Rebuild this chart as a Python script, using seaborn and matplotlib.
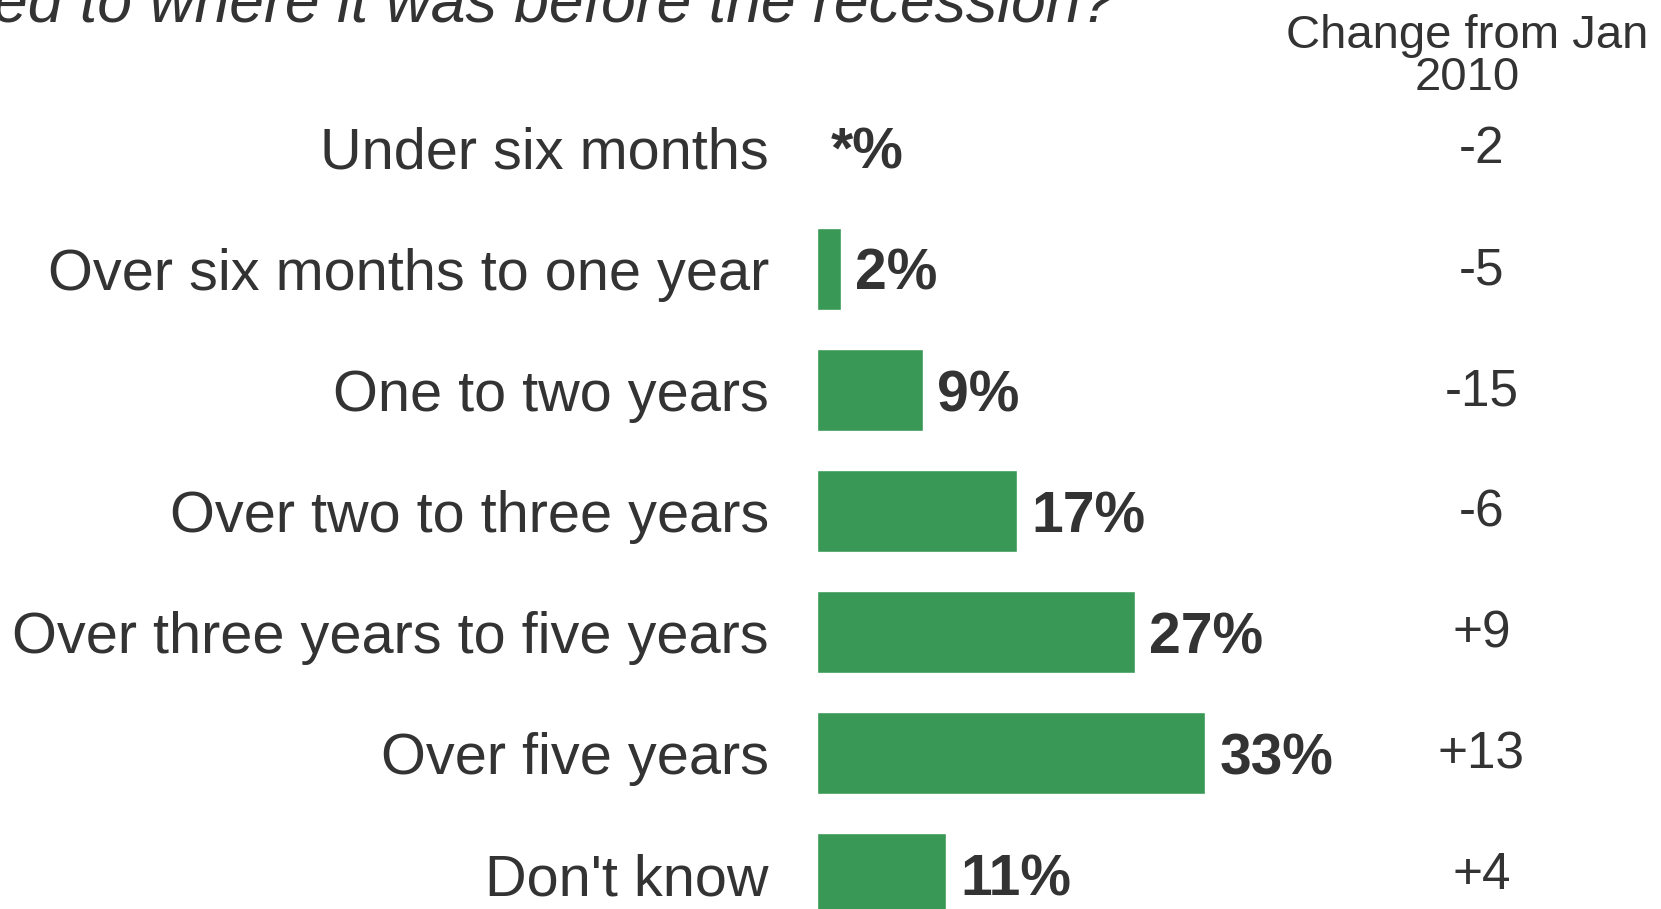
import numpy as np, pandas as pd
from matplotlib import pyplot as plt
import seaborn as sns

# Survey answers
categories = [
    "Under six months",
    "Over six months to one year",
    "One to two years",
    "Over two to three years",
    "Over three years to five years",
    "Over five years",
    "Don't know",
]
share = [0, 2, 9, 17, 27, 33, 11]
share_labels = ["*%", "2%", "9%", "17%", "27%", "33%", "11%"]
change = ["-2", "-5", "-15", "-6", "+9", "+13", "+4"]

df = pd.DataFrame({"category": categories, "share": share})

sns.set_style("white")
plt.rcParams["font.family"] = ["Liberation Sans", "DejaVu Sans"]
text_color = "#333333"
green = "#3a9857"

fig = plt.figure(figsize=(16.61, 9.09), dpi=100)
# axes starts where bars start and runs to the right edge
ax = fig.add_axes([817 / 1661, 0, 844 / 1661, 1])

sns.barplot(
    data=df, x="share", y="category", color=green, orient="h",
    width=0.68, saturation=1, ax=ax,
)

ax.set_xlim(0, 844 / 11.76)
ax.set_ylim(6.289, -1.223)
ax.axis("off")

for i, (lab, ch) in enumerate(zip(share_labels, change)):
    ax.text(-4.1, i, categories[i], ha="right", va="center_baseline",
            fontsize=41.5, color=text_color, clip_on=False)
    ax.text(share[i] + 1.2, i, lab, ha="left", va="center_baseline",
            fontsize=41, fontweight="bold", color=text_color, clip_on=False)
    ax.text(56.5, i - 0.03, ch, ha="center", va="center_baseline",
            fontsize=37, color=text_color, clip_on=False)

ax.text(55.3, -0.75, "Change from Jan\n2010", ha="center", va="center",
        fontsize=34, color=text_color, linespacing=0.95, clip_on=False)

# question text, cut off by the top edge as in the original
fig.text(-0.004, 1 - 21 / 909, "ed to where it was before the recession?",
         ha="left", va="baseline", fontsize=45, style="italic", color=text_color)

plt.savefig("out.png", dpi=100)
